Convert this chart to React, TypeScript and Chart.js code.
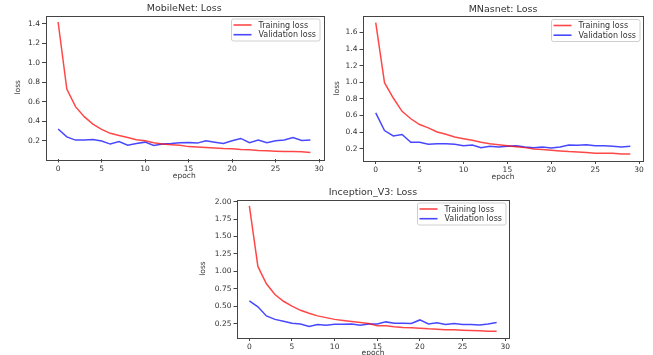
import React, { useEffect, useRef } from "react";
import { Chart, registerables } from "chart.js";
Chart.register(...registerables);

const epochs = [0, 1, 2, 3, 4, 5, 6, 7, 8, 9, 10, 11, 12, 13, 14, 15, 16, 17, 18, 19, 20, 21, 22, 23, 24, 25, 26, 27, 28, 29];
const xTicks = [0, 5, 10, 15, 20, 25, 30];

const mobileTrain = [1.417, 0.729, 0.55, 0.447, 0.37, 0.317, 0.276, 0.255, 0.234, 0.21, 0.2, 0.18, 0.166, 0.16, 0.153, 0.14, 0.135, 0.13, 0.125, 0.12, 0.118, 0.11, 0.107, 0.1, 0.097, 0.093, 0.09, 0.09, 0.088, 0.08];
const mobileVal = [0.32, 0.24, 0.207, 0.207, 0.214, 0.197, 0.166, 0.193, 0.155, 0.172, 0.186, 0.152, 0.166, 0.172, 0.18, 0.183, 0.176, 0.2, 0.186, 0.172, 0.2, 0.224, 0.18, 0.207, 0.18, 0.2, 0.207, 0.234, 0.203, 0.207];
const mobileYTicks = [0.2, 0.4, 0.6, 0.8, 1.0, 1.2, 1.4];
const mobileYLabels = ["0.2", "0.4", "0.6", "0.8", "1.0", "1.2", "1.4"];

const mnasTrain = [1.72, 0.995, 0.81, 0.65, 0.56, 0.49, 0.45, 0.4, 0.373, 0.34, 0.32, 0.3, 0.277, 0.26, 0.248, 0.236, 0.224, 0.212, 0.196, 0.188, 0.18, 0.172, 0.164, 0.16, 0.152, 0.144, 0.144, 0.144, 0.136, 0.136];
const mnasVal = [0.632, 0.418, 0.353, 0.37, 0.277, 0.277, 0.252, 0.26, 0.26, 0.252, 0.236, 0.244, 0.212, 0.228, 0.22, 0.228, 0.236, 0.22, 0.212, 0.22, 0.208, 0.22, 0.244, 0.24, 0.248, 0.236, 0.236, 0.228, 0.22, 0.228];
const mnasYTicks = [0.2, 0.4, 0.6, 0.8, 1.0, 1.2, 1.4, 1.6];
const mnasYLabels = ["0.2", "0.4", "0.6", "0.8", "1.0", "1.2", "1.4", "1.6"];

const incTrain = [1.94, 1.07, 0.82, 0.666, 0.57, 0.5, 0.44, 0.397, 0.36, 0.335, 0.31, 0.293, 0.278, 0.264, 0.25, 0.217, 0.217, 0.203, 0.193, 0.19, 0.184, 0.175, 0.17, 0.16, 0.16, 0.155, 0.15, 0.146, 0.14, 0.14];
const incVal = [0.576, 0.49, 0.36, 0.31, 0.283, 0.255, 0.245, 0.207, 0.236, 0.226, 0.24, 0.24, 0.245, 0.226, 0.245, 0.245, 0.274, 0.255, 0.255, 0.25, 0.302, 0.245, 0.26, 0.236, 0.25, 0.236, 0.236, 0.23, 0.245, 0.264];
const incYTicks = [0.25, 0.5, 0.75, 1.0, 1.25, 1.5, 1.75, 2.0];
const incYLabels = ["0.25", "0.50", "0.75", "1.00", "1.25", "1.50", "1.75", "2.00"];

const seriesNames = ["Training loss", "Validation loss"];
const W = 653;
const H = 355;
const FONT = '"DejaVu Sans", sans-serif';
const TXT = "#333";

type PlotProps = {
  title: string;
  train: number[];
  val: number[];
  yTicks: number[];
  yLabels: string[];
  area: { l: number; t: number; r: number; b: number };
  yLabelX: number;
  xLabelY: number;
  titleY: number;
};

function Plot(p: PlotProps) {
  const ref = useRef<HTMLCanvasElement | null>(null);
  useEffect(() => {
    if (!ref.current) return;
    const all = [...p.train, ...p.val];
    const mn = Math.min(...all);
    const mx = Math.max(...all);
    const pad = (mx - mn) * 0.05;
    const xPad = (epochs[epochs.length - 1] - epochs[0]) * 0.05;
    const Y_W = 40;
    const X_H = 20;
    const deco = {
      id: "deco",
      afterDraw(chart: any) {
        const ctx = chart.ctx;
        const a = chart.chartArea;
        ctx.save();
        // frame
        ctx.strokeStyle = "#444";
        ctx.lineWidth = 1;
        ctx.strokeRect(Math.round(a.left) + 0.5, Math.round(a.top) + 0.5, Math.round(a.right - a.left), Math.round(a.bottom - a.top));
        // title
        ctx.fillStyle = TXT;
        ctx.font = `9.5px ${FONT}`;
        ctx.textAlign = "center";
        ctx.textBaseline = "middle";
        ctx.fillText(p.title, (a.left + a.right) / 2, p.titleY);
        // axis labels
        ctx.font = `7.5px ${FONT}`;
        ctx.fillText("epoch", (a.left + a.right) / 2, p.xLabelY);
        ctx.save();
        ctx.translate(p.yLabelX, (a.top + a.bottom) / 2);
        ctx.rotate(-Math.PI / 2);
        ctx.fillText("loss", 0, 0);
        ctx.restore();
        // legend
        ctx.font = `8px ${FONT}`;
        const tw = Math.max(...seriesNames.map((s) => ctx.measureText(s).width));
        const bw = 3 + 17 + 7 + tw + 4;
        const bh = 22;
        const bx = a.right - 3 - bw;
        const by = a.top + 3.5;
        ctx.fillStyle = "rgba(255,255,255,0.85)";
        ctx.strokeStyle = "#cfcfcf";
        ctx.beginPath();
        const r = 2;
        ctx.moveTo(bx + r, by);
        ctx.lineTo(bx + bw - r, by);
        ctx.quadraticCurveTo(bx + bw, by, bx + bw, by + r);
        ctx.lineTo(bx + bw, by + bh - r);
        ctx.quadraticCurveTo(bx + bw, by + bh, bx + bw - r, by + bh);
        ctx.lineTo(bx + r, by + bh);
        ctx.quadraticCurveTo(bx, by + bh, bx, by + bh - r);
        ctx.lineTo(bx, by + r);
        ctx.quadraticCurveTo(bx, by, bx + r, by);
        ctx.fill();
        ctx.stroke();
        const cols = ["rgba(255,0,0,0.72)", "rgba(0,0,255,0.72)"];
        seriesNames.forEach((s, i) => {
          const cy = by + 6 + i * 9.7;
          ctx.strokeStyle = cols[i];
          ctx.lineWidth = 1.6;
          ctx.beginPath();
          ctx.moveTo(bx + 2, cy);
          ctx.lineTo(bx + 20, cy);
          ctx.stroke();
          ctx.fillStyle = TXT;
          ctx.textAlign = "left";
          ctx.fillText(s, bx + 27, cy + 0.5);
        });
        ctx.restore();
      },
    };
    const chart = new Chart(ref.current, {
      type: "line",
      data: {
        datasets: [
          {
            label: seriesNames[0],
            data: epochs.map((e, i) => ({ x: e, y: p.train[i] })),
            borderColor: "rgba(255,0,0,0.72)",
            borderWidth: 1.5,
            pointRadius: 0,
            tension: 0,
            fill: false,
          },
          {
            label: seriesNames[1],
            data: epochs.map((e, i) => ({ x: e, y: p.val[i] })),
            borderColor: "rgba(0,0,255,0.72)",
            borderWidth: 1.5,
            pointRadius: 0,
            tension: 0,
            fill: false,
          },
        ],
      },
      options: {
        animation: false,
        responsive: false,
        events: [],
        layout: {
          padding: {
            left: p.area.l - Y_W,
            top: p.area.t,
            right: W - p.area.r,
            bottom: H - p.area.b - X_H,
          },
        },
        plugins: {
          legend: { display: false },
          title: { display: false },
          tooltip: { enabled: false },
        },
        scales: {
          x: {
            type: "linear",
            min: epochs[0] - xPad,
            max: epochs[epochs.length - 1] + xPad,
            afterFit: (s: any) => {
              s.height = X_H;
            },
            afterBuildTicks: (s: any) => {
              s.ticks = xTicks.map((v) => ({ value: v }));
            },
            grid: { drawOnChartArea: false, drawTicks: true, tickLength: 3.5, tickColor: "#444", lineWidth: 1 },
            border: { display: false },
            ticks: {
              color: TXT,
              font: { family: FONT, size: 7.5 },
              padding: 2,
              maxRotation: 0,
              autoSkip: false,
              callback: (v: any) => String(v),
            },
          },
          y: {
            type: "linear",
            min: mn - pad,
            max: mx + pad,
            afterFit: (s: any) => {
              s.width = Y_W;
            },
            afterBuildTicks: (s: any) => {
              s.ticks = p.yTicks.map((v) => ({ value: v }));
            },
            grid: { drawOnChartArea: false, drawTicks: true, tickLength: 3.5, tickColor: "#444", lineWidth: 1 },
            border: { display: false },
            ticks: {
              color: TXT,
              font: { family: FONT, size: 7.5 },
              padding: 2,
              autoSkip: false,
              callback: (v: any) => {
                const i = p.yTicks.findIndex((t) => Math.abs(t - v) < 1e-9);
                return i >= 0 ? p.yLabels[i] : "";
              },
            },
          },
        },
      },
      plugins: [deco],
    } as any);
    return () => chart.destroy();
  }, []);
  return (
    <canvas
      ref={ref}
      width={W}
      height={H}
      style={{ position: "absolute", left: 0, top: 0, width: W, height: H }}
    />
  );
}

export default function App() {
  return (
    <div style={{ position: "fixed", left: 0, top: 0, width: W, height: H, background: "#fff", overflow: "hidden" }}>
      <Plot
        title="MobileNet: Loss"
        train={mobileTrain}
        val={mobileVal}
        yTicks={mobileYTicks}
        yLabels={mobileYLabels}
        area={{ l: 45.5, t: 15.5, r: 323, b: 159 }}
        yLabelX={18}
        xLabelY={176}
        titleY={9}
      />
      <Plot
        title="MNasnet: Loss"
        train={mnasTrain}
        val={mnasVal}
        yTicks={mnasYTicks}
        yLabels={mnasYLabels}
        area={{ l: 363, t: 16, r: 643, b: 160.5 }}
        yLabelX={337}
        xLabelY={177.5}
        titleY={10}
      />
      <Plot
        title="Inception_V3: Loss"
        train={incTrain}
        val={incVal}
        yTicks={incYTicks}
        yLabels={incYLabels}
        area={{ l: 237, t: 199.5, r: 509, b: 337.5 }}
        yLabelX={203}
        xLabelY={353.5}
        titleY={192.5}
      />
    </div>
  );
}
